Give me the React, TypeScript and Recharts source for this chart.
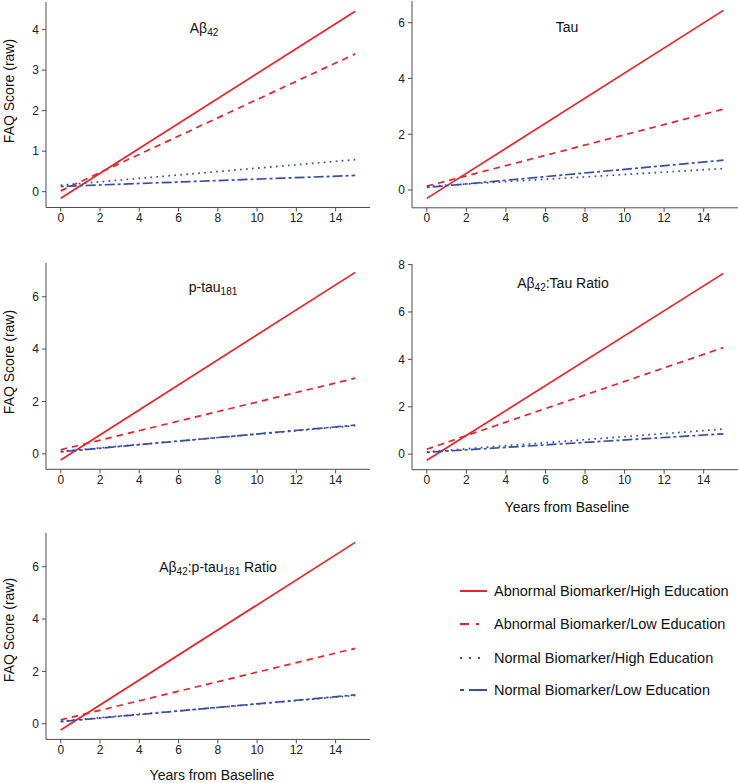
import React from "react";
import { LineChart, Line, XAxis, YAxis } from "recharts";

// ---- data ----
const years = [0, 15];
const xTicks = [0, 2, 4, 6, 8, 10, 12, 14];

const abeta42AbHigh = [-0.16, 4.45];
const abeta42AbLow = [0.02, 3.4];
const abeta42NormHigh = [0.16, 0.79];
const abeta42NormLow = [0.13, 0.4];

const tauAbHigh = [-0.3, 6.44];
const tauAbLow = [0.14, 2.9];
const tauNormHigh = [0.13, 0.77];
const tauNormLow = [0.09, 1.07];

const ptauAbHigh = [-0.23, 6.93];
const ptauAbLow = [0.16, 2.89];
const ptauNormHigh = [0.1, 1.08];
const ptauNormLow = [0.08, 1.1];

const ratioTauAbHigh = [-0.26, 7.63];
const ratioTauAbLow = [0.21, 4.5];
const ratioTauNormHigh = [0.1, 1.06];
const ratioTauNormLow = [0.08, 0.86];

const ratioPtauAbHigh = [-0.24, 6.93];
const ratioPtauAbLow = [0.15, 2.88];
const ratioPtauNormHigh = [0.1, 1.08];
const ratioPtauNormLow = [0.08, 1.1];

const seriesNames = [
  "Abnormal Biomarker/High Education",
  "Abnormal Biomarker/Low Education",
  "Normal Biomarker/High Education",
  "Normal Biomarker/Low Education",
];

const RED = "#E3242B";
const BLUE = "#3A4DA0";
const FONT = "'Liberation Sans', Arial, Helvetica, sans-serif";

const styles = [
  { key: "abHigh", color: RED, dash: undefined as string | undefined },
  { key: "abLow", color: RED, dash: "6.5 5" },
  { key: "normHigh", color: BLUE, dash: "1.7 4.3" },
  { key: "normLow", color: BLUE, dash: "3 3 10 3" },
];

function buildRows(s: number[][]) {
  return years.map((y, i) => ({
    year: y,
    abHigh: s[0][i],
    abLow: s[1][i],
    normHigh: s[2][i],
    normLow: s[3][i],
  }));
}

type Panel = {
  series: number[][];
  yTicks: number[];
  plotLeft: number;
  plotRight: number;
  plotTop: number;
  plotBottom: number;
};

const panels: Panel[] = [
  { series: [abeta42AbHigh, abeta42AbLow, abeta42NormHigh, abeta42NormLow], yTicks: [0, 1, 2, 3, 4], plotLeft: 46, plotRight: 370, plotTop: 1.5, plotBottom: 207 },
  { series: [tauAbHigh, tauAbLow, tauNormHigh, tauNormLow], yTicks: [0, 2, 4, 6], plotLeft: 411.7, plotRight: 738, plotTop: 0.5, plotBottom: 207.3 },
  { series: [ptauAbHigh, ptauAbLow, ptauNormHigh, ptauNormLow], yTicks: [0, 2, 4, 6], plotLeft: 46, plotRight: 370, plotTop: 263, plotBottom: 469.3 },
  { series: [ratioTauAbHigh, ratioTauAbLow, ratioTauNormHigh, ratioTauNormLow], yTicks: [0, 2, 4, 6, 8], plotLeft: 411.7, plotRight: 738, plotTop: 263.5, plotBottom: 469.2 },
  { series: [ratioPtauAbHigh, ratioPtauAbLow, ratioPtauNormHigh, ratioPtauNormLow], yTicks: [0, 2, 4, 6], plotLeft: 46, plotRight: 370, plotTop: 532.7, plotBottom: 739.1 },
];

const AXIS_COLOR = "#4d4d4d";
const TICK_COLOR = "#222";

function PanelChart({ p }: { p: Panel }) {
  const all = p.series.flat();
  const mn = Math.min(...all);
  const mx = Math.max(...all);
  const pad = (mx - mn) * 0.05;
  const yDomain = [mn - pad, mx + pad];
  const mTop = 10;
  const yAxisW = 46;
  const xAxisH = 25;
  const width = p.plotRight - p.plotLeft + yAxisW + 2;
  const height = p.plotBottom - p.plotTop + mTop + xAxisH;
  return (
    <div style={{ position: "absolute", left: p.plotLeft - yAxisW, top: p.plotTop - mTop }}>
      <LineChart
        width={width}
        height={height}
        data={buildRows(p.series)}
        margin={{ top: mTop, right: 2, left: 0, bottom: 0 }}
      >
        <XAxis
          dataKey="year"
          type="number"
          domain={[-0.75, 15.75]}
          ticks={xTicks}
          allowDataOverflow
          height={xAxisH}
          tickSize={4}
          tickMargin={2}
          stroke={AXIS_COLOR}
          tick={{ fill: TICK_COLOR, fontSize: 12, fontFamily: FONT }}
        />
        <YAxis
          type="number"
          domain={yDomain}
          ticks={p.yTicks}
          allowDataOverflow
          width={yAxisW}
          tickSize={4}
          tickMargin={3}
          stroke={AXIS_COLOR}
          tick={{ fill: TICK_COLOR, fontSize: 12, fontFamily: FONT }}
        />
        {styles.map((s) => (
          <Line
            key={s.key}
            type="linear"
            dataKey={s.key}
            stroke={s.color}
            strokeWidth={1.7}
            strokeDasharray={s.dash}
            dot={false}
            activeDot={false}
            isAnimationActive={false}
          />
        ))}
      </LineChart>
    </div>
  );
}

function Title({ x, y, children }: { x: number; y: number; children: React.ReactNode }) {
  return (
    <div
      style={{
        position: "absolute",
        left: x - 150,
        top: y - 10,
        width: 300,
        textAlign: "center",
        fontFamily: FONT,
        fontSize: 14,
        lineHeight: "20px",
        color: "#111",
        whiteSpace: "nowrap",
      }}
    >
      {children}
    </div>
  );
}

const Sub = ({ t }: { t: string }) => (
  <span style={{ fontSize: 10, position: "relative", top: 3 }}>{t}</span>
);

function YLabel({ y }: { y: number }) {
  return (
    <div
      style={{
        position: "absolute",
        left: 9 - 70,
        top: y - 10,
        width: 140,
        textAlign: "center",
        transform: "rotate(-90deg)",
        fontFamily: FONT,
        fontSize: 14,
        lineHeight: "20px",
        color: "#111",
        whiteSpace: "nowrap",
      }}
    >
      FAQ Score (raw)
    </div>
  );
}

function XLabel({ x, y }: { x: number; y: number }) {
  return (
    <div
      style={{
        position: "absolute",
        left: x - 100,
        top: y - 10,
        width: 200,
        textAlign: "center",
        fontFamily: FONT,
        fontSize: 14,
        lineHeight: "20px",
        color: "#111",
        whiteSpace: "nowrap",
      }}
    >
      Years from Baseline
    </div>
  );
}

const legendRowsY = [590.7, 624, 657.7, 690];

function LegendBox() {
  return (
    <>
      {seriesNames.map((name, i) => (
        <div key={name}>
          <svg
            style={{ position: "absolute", left: 458, top: legendRowsY[i] - 5 }}
            width={32}
            height={10}
          >
            <line
              x1={2}
              y1={5}
              x2={29}
              y2={5}
              stroke={styles[i].color}
              strokeWidth={2}
              strokeDasharray={
                i === 0 ? undefined : i === 1 ? "9 7 3 100" : i === 2 ? "2 7" : "4 5 20 100"
              }
            />
          </svg>
          <div
            style={{
              position: "absolute",
              left: 494,
              top: legendRowsY[i] - 10,
              fontFamily: FONT,
              fontSize: 14.5,
              lineHeight: "20px",
              color: "#111",
              whiteSpace: "nowrap",
            }}
          >
            {name}
          </div>
        </div>
      ))}
    </>
  );
}

export default function App() {
  return (
    <div
      style={{
        position: "absolute",
        left: 0,
        top: 0,
        width: 738,
        height: 783,
        background: "#fff",
        overflow: "hidden",
      }}
    >
      {panels.map((p, i) => (
        <PanelChart key={i} p={p} />
      ))}
      <Title x={204} y={28}>
        Aβ<Sub t="42" />
      </Title>
      <Title x={567} y={27}>Tau</Title>
      <Title x={213} y={287}>
        p-tau<Sub t="181" />
      </Title>
      <Title x={563} y={283}>
        Aβ<Sub t="42" />:Tau Ratio
      </Title>
      <Title x={218} y={567}>
        Aβ<Sub t="42" />:p-tau<Sub t="181" /> Ratio
      </Title>
      <YLabel y={91} />
      <YLabel y={362} />
      <YLabel y={630} />
      <XLabel x={567} y={507} />
      <XLabel x={212} y={775} />
      <LegendBox />
    </div>
  );
}
